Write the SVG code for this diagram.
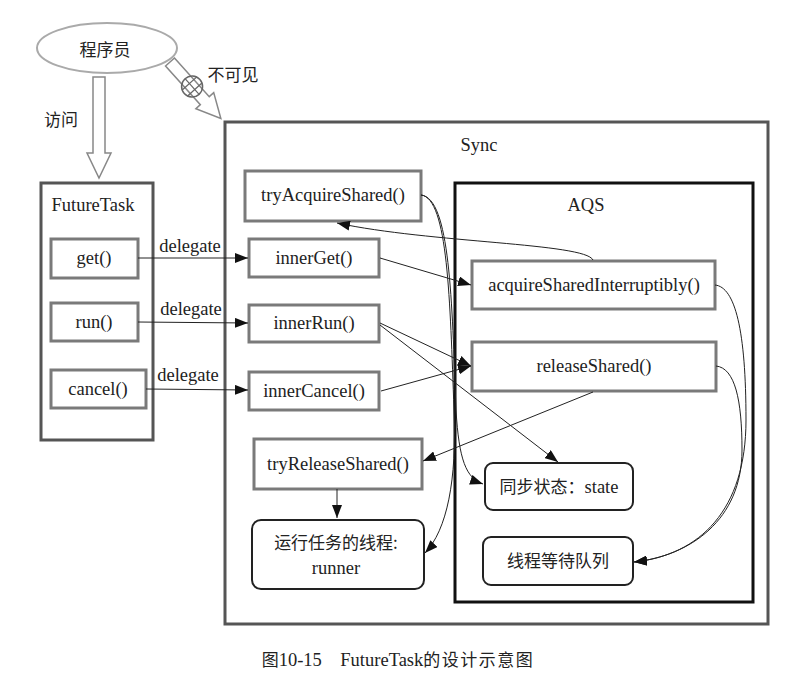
<svg xmlns="http://www.w3.org/2000/svg" width="811" height="679" viewBox="0 0 811 679">
<style>
text{font-family:"Liberation Serif","Noto Sans CJK SC",serif;fill:#222;font-size:18.5px;text-anchor:middle}
.cn{font-family:"Noto Sans CJK SC",sans-serif;font-size:17px}
.gb{fill:#fff;stroke:#7a7a7a;stroke-width:3}
.ob{fill:#fff;stroke:#555;stroke-width:3}
.rb{fill:#fff;stroke:#222;stroke-width:2}
.c{fill:none;stroke:#222;stroke-width:1}
.ho{fill:#fff;stroke:#888;stroke-width:1.5}
</style>
<defs>
<marker id="ah" markerUnits="userSpaceOnUse" markerWidth="14" markerHeight="10" refX="13" refY="5" orient="auto">
<path d="M0,0 L13,5 L0,10 Z" fill="#111"/>
</marker>
</defs>
<rect width="811" height="679" fill="#fff"/>

<g id="programmer">
<ellipse cx="107" cy="48" rx="70" ry="25" fill="#fff" stroke="#aaa" stroke-width="2"/>
<text class="cn" x="105" y="56" font-size="18px">程序员</text>
</g>

<g id="access-arrow">
<polygon class="ho" points="93,77 105,77 105,153 111,153 99,178 87,153 93,153"/>
<text class="cn" x="61" y="126">访问</text>
</g>

<g id="invisible-arrow">
<g transform="translate(170,62) rotate(48)">
<polygon class="ho" points="0,-6 52,-6 52,-12 76,0 52,12 52,6 0,6"/>
<circle cx="33" cy="0" r="10.5" fill="none" stroke="#666" stroke-width="1.5"/>
<line x1="22.5" y1="0" x2="43.5" y2="0" stroke="#666" stroke-width="1.2"/>
<line x1="29" y1="-10" x2="29" y2="10" stroke="#666" stroke-width="1.2"/>
<line x1="37" y1="-10" x2="37" y2="10" stroke="#666" stroke-width="1.2"/>
</g>
<text class="cn" x="233" y="81">不可见</text>
</g>

<g id="futuretask">
<rect class="ob" x="41" y="183" width="112" height="257"/>
<text x="93" y="211">FutureTask</text>
</g>
<g id="get"><rect class="gb" x="51" y="239" width="87" height="39"/><text x="94" y="264">get()</text></g>
<g id="run"><rect class="gb" x="51" y="303" width="87" height="38"/><text x="94" y="328">run()</text></g>
<g id="cancel"><rect class="gb" x="51" y="370" width="95" height="38"/><text x="98" y="395">cancel()</text></g>

<g id="sync">
<rect class="ob" x="225" y="122" width="543" height="502"/>
<text x="479" y="151">Sync</text>
</g>
<g id="aqs">
<rect x="455" y="183" width="298" height="419" fill="#fff" stroke="#111" stroke-width="3"/>
<text x="586" y="211">AQS</text>
</g>

<g id="tryAcquireShared"><rect class="gb" x="245" y="171" width="176" height="50"/><text x="333" y="201">tryAcquireShared()</text></g>
<g id="innerGet"><rect class="gb" x="249" y="239" width="130" height="38"/><text x="314" y="264">innerGet()</text></g>
<g id="innerRun"><rect class="gb" x="249" y="305" width="130" height="37"/><text x="314" y="329">innerRun()</text></g>
<g id="innerCancel"><rect class="gb" x="249" y="372" width="130" height="38"/><text x="314" y="397">innerCancel()</text></g>
<g id="tryReleaseShared"><rect class="gb" x="254" y="439" width="168" height="50"/><text x="338" y="470">tryReleaseShared()</text></g>
<g id="runner">
<rect class="rb" x="252" y="520" width="172" height="69" rx="9"/>
<text class="cn" x="336" y="549">运行任务的线程:</text>
<text x="336" y="574">runner</text>
</g>
<g id="acquireSharedInterruptibly"><rect class="gb" x="472" y="261" width="243" height="48"/><text x="594" y="291">acquireSharedInterruptibly()</text></g>
<g id="releaseShared"><rect class="gb" x="472" y="342" width="244" height="49"/><text x="594" y="372">releaseShared()</text></g>
<g id="state">
<rect class="rb" x="485" y="463" width="148" height="47" rx="8"/>
<text x="559" y="493"><tspan class="cn">同步状态：</tspan>state</text>
</g>
<g id="waitqueue">
<rect class="rb" x="483" y="537" width="150" height="48" rx="8"/>
<text class="cn" x="558" y="567">线程等待队列</text>
</g>

<g id="connectors">
<line class="c" x1="138" y1="258" x2="248" y2="258" marker-end="url(#ah)"/>
<line class="c" x1="138" y1="322" x2="248" y2="323" marker-end="url(#ah)"/>
<line class="c" x1="146" y1="389" x2="248" y2="390" marker-end="url(#ah)"/>
<text x="190" y="252">delegate</text>
<text x="191" y="315">delegate</text>
<text x="188" y="381">delegate</text>
<line class="c" x1="380" y1="258" x2="471" y2="285" marker-end="url(#ah)"/>
<path class="c" d="M593,260 C585,243 430,243 337,223" marker-end="url(#ah)"/>
<line class="c" x1="380" y1="323" x2="471" y2="366" marker-end="url(#ah)"/>
<line class="c" x1="380" y1="325" x2="558" y2="462" marker-end="url(#ah)"/>
<line class="c" x1="381" y1="391" x2="471" y2="366" marker-end="url(#ah)"/>
<line class="c" x1="593" y1="392" x2="423" y2="461" marker-end="url(#ah)"/>
<line class="c" x1="337" y1="489" x2="337" y2="518" marker-end="url(#ah)"/>
<path class="c" d="M421,195 C450,198 452,300 456,410 C459,460 466,478 483,484" marker-end="url(#ah)"/>
<path class="c" d="M421,195 C448,198 450,300 454,410 C457,480 447,530 425,553" marker-end="url(#ah)"/>
<path class="c" d="M715,285 C735,287 746,330 746,420 C746,510 700,555 634,562" marker-end="url(#ah)"/>
<path class="c" d="M716,366 C735,368 742,400 742,450 C742,520 690,556 634,562" marker-end="url(#ah)"/>
</g>

<g id="caption">
<text x="398" y="666" font-size="17.5px"><tspan class="cn" font-size="18px">图</tspan>10-15　FutureTask<tspan class="cn" font-size="18px" letter-spacing="1.5">的设计示意图</tspan></text>
</g>
</svg>
